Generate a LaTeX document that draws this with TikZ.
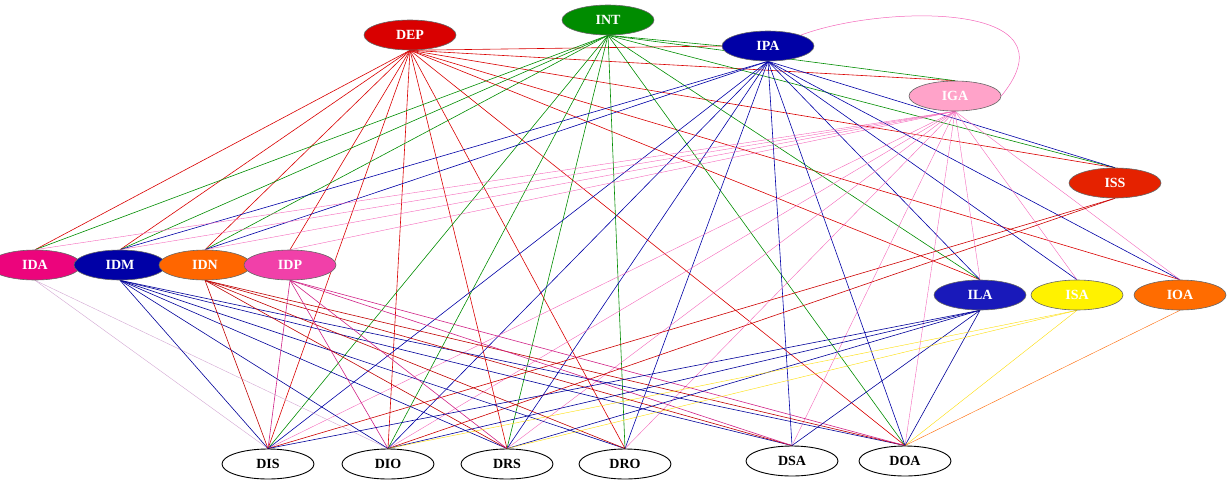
\documentclass[tikz,border=0pt]{standalone}
\usepackage{fontspec}
\setmainfont{Liberation Serif}
\usetikzlibrary{shapes.geometric}
\pgfdeclarelayer{bg}\pgfsetlayers{bg,main}
\begin{document}
\begin{tikzpicture}[x=1pt,y=-1pt,
 nd/.style={ellipse,draw=black!60,line width=0.6pt,minimum width=92pt,minimum height=30pt,inner sep=0pt,font=\bfseries\fontsize{14}{16}\selectfont,text=white},
 bot/.style={ellipse,draw=black,line width=0.9pt,minimum width=92pt,minimum height=30pt,inner sep=0pt,font=\bfseries\fontsize{14}{16}\selectfont,fill=white},
 e/.style={line width=0.6pt}]
\useasboundingbox (0,0) rectangle (1232,480);
\node[nd,fill=red!85!black] (DEP) at (410,35) {DEP};
\node[nd,fill=green!55!black] (INT) at (608,20) {INT};
\node[nd,fill=blue!65!black] (IPA) at (768,46) {IPA};
\node[nd,fill=pink!85!magenta] (IGA) at (955,96) {IGA};
\node[nd,fill=red!70!orange!90!black] (ISS) at (1115,183) {ISS};
\node[nd,fill=magenta!85!red] (IDA) at (35,265) {IDA};
\node[nd,fill=blue!65!black] (IDM) at (120,265) {IDM};
\node[nd,fill=orange!80!red] (IDN) at (205,265) {IDN};
\node[nd,fill=magenta!75] (IDP) at (290,265) {IDP};
\node[nd,fill=blue!70!black!90] (ILA) at (980,295) {ILA};
\node[nd,fill=yellow] (ISA) at (1077,295) {ISA};
\node[nd,fill=orange!85!red] (IOA) at (1180,295) {IOA};
\node[bot] (DIS) at (268,464) {DIS};
\node[bot] (DIO) at (388,464) {DIO};
\node[bot] (DRS) at (507,464) {DRS};
\node[bot] (DRO) at (625,464) {DRO};
\node[bot] (DSA) at (792,461) {DSA};
\node[bot] (DOA) at (905,461) {DOA};
\begin{pgfonlayer}{bg}
\foreach \t in {IDA,IDM,IDN,IDP,DIS,DIO,DRS,DRO,DOA,ILA,IOA,ISS,IGA}
  \draw[e,red!85!black] (DEP.south) -- (\t.north);
\draw[e,red!85!black] (DEP.south) -- (IPA.west);
\foreach \t in {IDA,IDM,IDN,DIS,DIO,DRS,DRO,DOA,ILA,ISS,IGA}
  \draw[e,green!55!black] (INT.south) -- (\t.north);
\draw[e,green!55!black] (INT.south) -- (IPA.west);
\foreach \t in {IDM,IDN,DIS,DIO,DRS,DRO,DSA,DOA,ILA,ISA,IOA,ISS}
  \draw[e,blue!65!black] (IPA.south) -- (\t.north);
\foreach \t in {IDA,IDM,IDN,IDP,DIS,DIO,DRS,DRO,DSA,DOA,ILA,ISA,IOA}
  \draw[e,magenta!60,line width=0.4pt] (IGA.south) -- (\t.north);
\foreach \t in {DIS,DIO}
  \draw[e,red!80!black] (ISS.south) -- (\t.north);
\foreach \t in {DIS,DIO}
  \draw[e,violet!35,line width=0.4pt] (IDA.south) -- (\t.north);
\foreach \t in {DIS,DIO,DRS,DRO,DSA,DOA}
  \draw[e,blue!60!black] (IDM.south) -- (\t.north);
\foreach \t in {DIS,DRS,DRO,DSA,DOA}
  \draw[e,red!75!black] (IDN.south) -- (\t.north);
\foreach \t in {DIS,DIO,DRS,DSA,DOA}
  \draw[e,magenta!70!violet] (IDP.south) -- (\t.north);
\foreach \t in {DIS,DIO,DRS,DSA,DOA}
  \draw[e,blue!60!black] (ILA.south) -- (\t.north);
\foreach \t in {DIO,DRS,DOA}
  \draw[e,yellow!80!orange,line width=0.4pt] (ISA.south) -- (\t.north);
\draw[e,orange!80!red,line width=0.4pt] (IOA.south) -- (DOA.north);
\draw[magenta!60,line width=0.5pt] (IPA.north east) .. controls (880,5) and (1080,0) .. (IGA.east);
\end{pgfonlayer}
\end{tikzpicture}
\end{document}
